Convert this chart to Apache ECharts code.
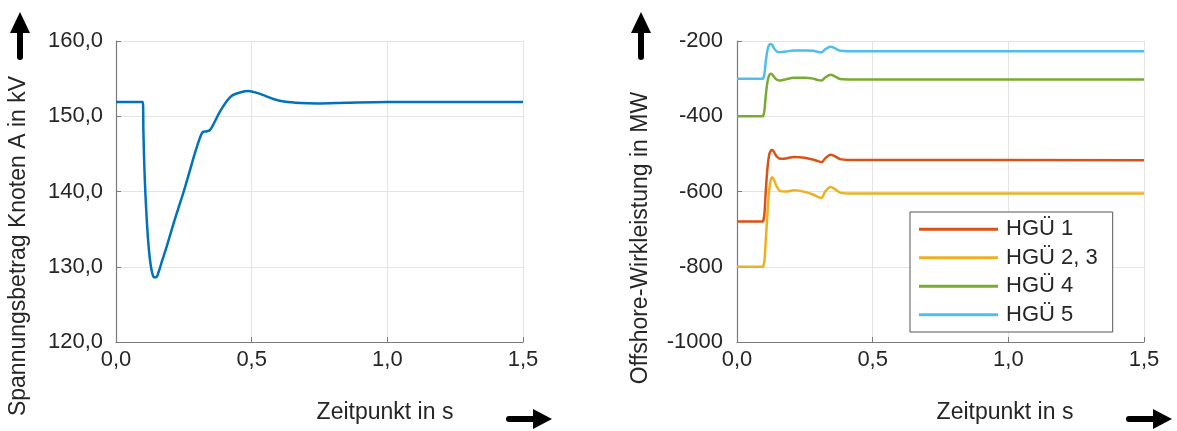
<!DOCTYPE html>
<html>
<head>
<meta charset="utf-8">
<script src="https://cdn.jsdelivr.net/npm/echarts@6/dist/echarts.min.js"></script>
<style>
html,body{margin:0;padding:0;background:#fff;}
#c{width:1177px;height:431px;}
</style>
</head>
<body>
<div id="c"></div>
<script>
// ---- Data ----
const voltTime = [0, 0.095, 0.099, 0.101, 0.104, 0.108, 0.113, 0.119, 0.125, 0.132, 0.140, 0.148, 0.157, 0.170, 0.187, 0.21, 0.23, 0.248, 0.27, 0.29, 0.31, 0.32, 0.335, 0.347, 0.36, 0.383, 0.41, 0.43, 0.46, 0.488, 0.52, 0.55, 0.58, 0.62, 0.68, 0.74, 0.85, 1.0, 1.5];
const voltValue = [151.9, 151.9, 151.9, 148.0, 143.8, 140.0, 136.5, 133.2, 131.0, 129.4, 128.6, 128.6, 129.3, 130.8, 132.7, 135.5, 137.8, 139.8, 142.5, 145.0, 147.2, 147.9, 148.0, 148.2, 149.0, 150.6, 152.1, 152.8, 153.2, 153.35, 153.1, 152.7, 152.3, 151.95, 151.75, 151.7, 151.8, 151.9, 151.9];

const powerTime = [0, 0.096, 0.098, 0.101, 0.106, 0.112, 0.118, 0.124, 0.130, 0.137, 0.147, 0.16, 0.18, 0.21, 0.25, 0.28, 0.30, 0.312, 0.325, 0.345, 0.36, 0.38, 0.41, 0.5, 1.5];
const hgu1 = [-680, -680, -680, -660, -600, -540, -505, -492, -490, -496, -507, -513, -512, -508, -510, -515, -520, -522, -512, -502, -506, -514, -516, -516, -517];
const hgu23 = [-800, -800, -800, -785, -730, -660, -600, -570, -562, -570, -588, -599, -600, -597, -601, -608, -615, -617, -600, -588, -593, -603, -605, -605, -605];
const hgu4 = [-400, -400, -400, -385, -345, -310, -292, -287, -289, -296, -303, -305, -302, -298, -298, -300, -304, -305, -297, -290, -294, -301, -302, -302, -302];
const hgu5 = [-300, -300, -300, -288, -255, -225, -211, -208, -211, -220, -228, -230, -228, -225, -225, -226, -229, -230, -222, -215, -219, -226, -227, -227, -227];

const seriesNames = ['HGÜ 1', 'HGÜ 2, 3', 'HGÜ 4', 'HGÜ 5'];
const yTitleLeft = 'Spannungsbetrag Knoten A in kV';
const yTitleRight = 'Offshore-Wirkleistung in MW';
const xTitle = 'Zeitpunkt in s';

// ---- Styles ----
const FONT = "'Liberation Sans', Arial, sans-serif";
const TXT = '#262626';
const AXC = '#7a7a7a';
const GRID = '#e3e3e3';
const colors = ['#D95319', '#EDB120', '#77AC30', '#4DBEEE'];

function zip(t, v) { return t.map((x, i) => [x, v[i]]); }

function xAxisCfg(gi) {
  return {
    type: 'value', gridIndex: gi, min: 0, max: 1.5, interval: 0.5,
    axisLine: { show: true, lineStyle: { color: AXC, width: 1.2 } },
    axisTick: { show: true, inside: true, length: 5, lineStyle: { color: AXC } },
    splitLine: { show: true, lineStyle: { color: GRID, width: 1 } },
    axisLabel: {
      margin: 7, color: TXT, fontFamily: FONT, fontSize: 22,
      formatter: v => v.toFixed(1).replace('.', ',')
    }
  };
}

function upArrow(cx) {
  return {
    type: 'group', children: [
      { type: 'rect', shape: { x: cx - 3, y: 28, width: 6, height: 32, r: 3 }, style: { fill: '#000' } },
      { type: 'polygon', shape: { points: [[cx, 12], [cx - 10, 33], [cx + 10, 33]] }, style: { fill: '#000' } }
    ]
  };
}
function rightArrow(x0, x1, cy) {
  return {
    type: 'group', children: [
      { type: 'rect', shape: { x: x0, y: cy - 3, width: x1 - 16 - x0, height: 6, r: 3 }, style: { fill: '#000' } },
      { type: 'polygon', shape: { points: [[x1, cy], [x1 - 19, cy - 10], [x1 - 19, cy + 10]] }, style: { fill: '#000' } }
    ]
  };
}

const chart = echarts.init(document.getElementById('c'), null, { renderer: 'canvas' });
const powerData = [hgu1, hgu23, hgu4, hgu5];

chart.setOption({
  animation: false,
  backgroundColor: '#fff',
  grid: [
    { left: 116, top: 41, width: 407, height: 301 },
    { left: 737, top: 41, width: 407, height: 301 }
  ],
  xAxis: [xAxisCfg(0), xAxisCfg(1)],
  yAxis: [
    {
      type: 'value', gridIndex: 0, min: 120, max: 160, interval: 10,
      axisLine: { show: true, lineStyle: { color: AXC, width: 1.2 } },
      axisTick: { show: true, inside: true, length: 5, lineStyle: { color: AXC } },
      splitLine: { show: true, lineStyle: { color: GRID, width: 1 } },
      axisLabel: {
        margin: 13, color: TXT, fontFamily: FONT, fontSize: 22,
        formatter: v => v.toFixed(1).replace('.', ',')
      }
    },
    {
      type: 'value', gridIndex: 1, min: -1000, max: -200, interval: 200,
      axisLine: { show: true, lineStyle: { color: AXC, width: 1.2 } },
      axisTick: { show: true, inside: true, length: 5, lineStyle: { color: AXC } },
      splitLine: { show: true, lineStyle: { color: GRID, width: 1 } },
      axisLabel: { margin: 14, color: TXT, fontFamily: FONT, fontSize: 22, formatter: v => String(v) }
    }
  ],
  legend: {
    orient: 'vertical', left: 910, top: 212,
    data: seriesNames,
    backgroundColor: '#fff',
    borderColor: '#555', borderWidth: 1,
    padding: [3, 15, 3, 9],
    itemGap: 0, itemWidth: 79, itemHeight: 3, icon: 'rect',
    textStyle: { color: TXT, fontFamily: FONT, fontSize: 22, lineHeight: 28.5, padding: [0, 0, 0, 3] }
  },
  series: [
    {
      name: 'Spannung', type: 'line', xAxisIndex: 0, yAxisIndex: 0,
      data: zip(voltTime, voltValue), showSymbol: false, smooth: 0.3,
      lineStyle: { color: '#0072BD', width: 2.5 }, itemStyle: { color: '#0072BD' }
    }
  ].concat(seriesNames.map((n, i) => ({
    name: n, type: 'line', xAxisIndex: 1, yAxisIndex: 1,
    data: zip(powerTime, powerData[i]), showSymbol: false, smooth: 0.3,
    lineStyle: { color: colors[i], width: 2.5 }, itemStyle: { color: colors[i] }
  }))),
  graphic: [
    { type: 'text', x: 19, y: 246, rotation: Math.PI / 2,
      style: { text: yTitleLeft, fill: TXT, font: "23px 'Liberation Sans', Arial, sans-serif", textAlign: 'center', textVerticalAlign: 'middle' } },
    { type: 'text', x: 641, y: 238, rotation: Math.PI / 2,
      style: { text: yTitleRight, fill: TXT, font: "23px 'Liberation Sans', Arial, sans-serif", textAlign: 'center', textVerticalAlign: 'middle' } },
    { type: 'text', x: 385, y: 413,
      style: { text: xTitle, fill: TXT, font: "23px 'Liberation Sans', Arial, sans-serif", textAlign: 'center', textVerticalAlign: 'middle' } },
    { type: 'text', x: 1005, y: 413,
      style: { text: xTitle, fill: TXT, font: "23px 'Liberation Sans', Arial, sans-serif", textAlign: 'center', textVerticalAlign: 'middle' } },
    upArrow(20),
    upArrow(641),
    rightArrow(506, 552, 419),
    rightArrow(1126, 1172, 419)
  ]
});
</script>
</body>
</html>
